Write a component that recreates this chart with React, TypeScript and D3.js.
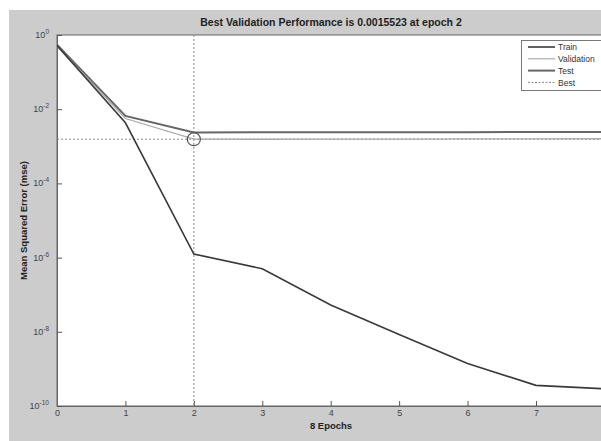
import React, { useEffect, useRef } from 'react';
import * as d3 from 'd3';

const epochs = [0, 1, 2, 3, 4, 5, 6, 7, 8];
const trainMse = [0.52, 4.3e-3, 1.25e-6, 5.0e-7, 5.3e-8, 8.5e-9, 1.4e-9, 3.6e-10, 2.9e-10];
const validationMse = [0.5, 5.6e-3, 1.5523e-3, 1.55e-3, 1.56e-3, 1.57e-3, 1.58e-3, 1.59e-3, 1.6e-3];
const testMse = [0.55, 6.6e-3, 2.35e-3, 2.38e-3, 2.4e-3, 2.4e-3, 2.41e-3, 2.42e-3, 2.42e-3];
const bestEpoch = 2;
const bestValue = 0.0015523;
const xTicks = [0, 1, 2, 3, 4, 5, 6, 7];
const yTicks = [1, 1e-2, 1e-4, 1e-6, 1e-8, 1e-10];
const legendItems = ['Train', 'Validation', 'Test', 'Best'];

const App = () => {
  const svgRef = useRef<SVGSVGElement>(null);

  useEffect(() => {
    const svg = d3.select(svgRef.current);
    svg.selectAll('*').remove();
    const W = 601, H = 441;
    const margin = { left: 57, top: 35, bottom: 406 };
    const plotRight = 604.4;
    const font = 'Liberation Sans, Arial, sans-serif';

    svg.append('rect').attr('x', 9).attr('y', 10).attr('width', W - 9).attr('height', H - 10).attr('fill', '#cccccc');

    const x = d3.scaleLinear().domain([0, 8]).range([margin.left, plotRight]);
    const y = d3.scaleLog().domain([1e-10, 1]).range([margin.bottom, margin.top]);

    svg.append('rect').attr('x', margin.left).attr('y', margin.top)
      .attr('width', plotRight - margin.left).attr('height', margin.bottom - margin.top)
      .attr('fill', '#ffffff').attr('stroke', '#666').attr('stroke-width', 1);

    // title
    svg.append('text').attr('x', 331).attr('y', 26).attr('text-anchor', 'middle')
      .attr('font-family', font).attr('font-size', 10.5).attr('font-weight', 'bold')
      .attr('fill', '#222').text(`Best Validation Performance is ${bestValue} at epoch ${bestEpoch}`);

    // axes
    const xAxis = svg.append('g').attr('transform', `translate(0,${margin.bottom})`)
      .call(d3.axisBottom(x).tickValues(xTicks).tickSize(-5).tickPadding(3).tickFormat(d3.format('d')));
    xAxis.select('.domain').attr('stroke', '#666');
    xAxis.selectAll('line').attr('stroke', '#555');
    xAxis.selectAll('text').attr('font-family', font).attr('font-size', 9).attr('fill', '#444').attr('dy', '0.75em');

    const yAxis = svg.append('g').attr('transform', `translate(${margin.left},0)`)
      .call(d3.axisLeft(y).tickValues(yTicks).tickSize(-5).tickFormat(() => ''));
    yAxis.select('.domain').attr('stroke', '#666');
    yAxis.selectAll('line').attr('stroke', '#555');
    yTicks.forEach(t => {
      const e = Math.round(Math.log10(t));
      const g = svg.append('text').attr('x', margin.left - 8).attr('y', y(t) + 3)
        .attr('text-anchor', 'end').attr('font-family', font).attr('font-size', 9).attr('fill', '#444');
      g.append('tspan').text('10');
      g.append('tspan').attr('dy', -4).attr('font-size', 6.5).text(String(e));
    });

    svg.append('text').attr('transform', `translate(27,${(margin.top + margin.bottom) / 2}) rotate(-90)`)
      .attr('text-anchor', 'middle').attr('font-family', font).attr('font-size', 9.5).attr('font-weight', 'bold')
      .attr('fill', '#222').text('Mean Squared Error  (mse)');
    svg.append('text').attr('x', 331).attr('y', 429).attr('text-anchor', 'middle')
      .attr('font-family', font).attr('font-size', 9.5).attr('font-weight', 'bold').attr('fill', '#222')
      .text(`${epochs.length - 1} Epochs`);

    const clip = svg.append('defs').append('clipPath').attr('id', 'plotclip');
    clip.append('rect').attr('x', margin.left).attr('y', margin.top)
      .attr('width', plotRight - margin.left).attr('height', margin.bottom - margin.top);
    const plot = svg.append('g').attr('clip-path', 'url(#plotclip)');

    // best lines
    plot.append('line').attr('x1', margin.left).attr('x2', plotRight).attr('y1', y(bestValue)).attr('y2', y(bestValue))
      .attr('stroke', '#888').attr('stroke-dasharray', '2,2').attr('stroke-width', 1);
    plot.append('line').attr('x1', x(bestEpoch)).attr('x2', x(bestEpoch)).attr('y1', margin.top).attr('y2', margin.bottom)
      .attr('stroke', '#888').attr('stroke-dasharray', '2,2').attr('stroke-width', 1);

    const line = d3.line<number>().x((_, i) => x(epochs[i])).y(d => y(d));
    const series = [
      { data: testMse, color: '#666666', width: 2 },
      { data: validationMse, color: '#aaaaaa', width: 1.3 },
      { data: trainMse, color: '#3a3a3a', width: 1.6 },
    ];
    series.forEach(s => {
      plot.append('path').datum(s.data).attr('d', line).attr('fill', 'none')
        .attr('stroke', s.color).attr('stroke-width', s.width);
    });

    plot.append('circle').attr('cx', x(bestEpoch)).attr('cy', y(bestValue)).attr('r', 6.5)
      .attr('fill', 'none').attr('stroke', '#555').attr('stroke-width', 1.2);

    // legend
    const lg = svg.append('g');
    lg.append('rect').attr('x', 521.5).attr('y', 40.5).attr('width', 90).attr('height', 50)
      .attr('fill', '#fff').attr('stroke', '#777').attr('stroke-width', 1);
    const lstyles = [
      { color: '#3a3a3a', width: 1.6, dash: null },
      { color: '#aaaaaa', width: 1.2, dash: null },
      { color: '#666666', width: 2, dash: null },
      { color: '#888888', width: 1, dash: '2,1.5' },
    ];
    legendItems.forEach((name, i) => {
      const ly = 47 + i * 11.8;
      const st = lstyles[i];
      lg.append('line').attr('x1', 528).attr('x2', 555).attr('y1', ly).attr('y2', ly)
        .attr('stroke', st.color).attr('stroke-width', st.width).attr('stroke-dasharray', st.dash);
      lg.append('text').attr('x', 558).attr('y', ly + 3.2).attr('font-family', font).attr('font-size', 8.5)
        .attr('fill', '#333').text(name);
    });
  }, []);

  return (
    <div style={{ position: 'fixed', left: 0, top: 0 }}>
      <svg ref={svgRef} width={601} height={441} style={{ display: 'block', background: '#fff' }} />
    </div>
  );
};

export default App;
